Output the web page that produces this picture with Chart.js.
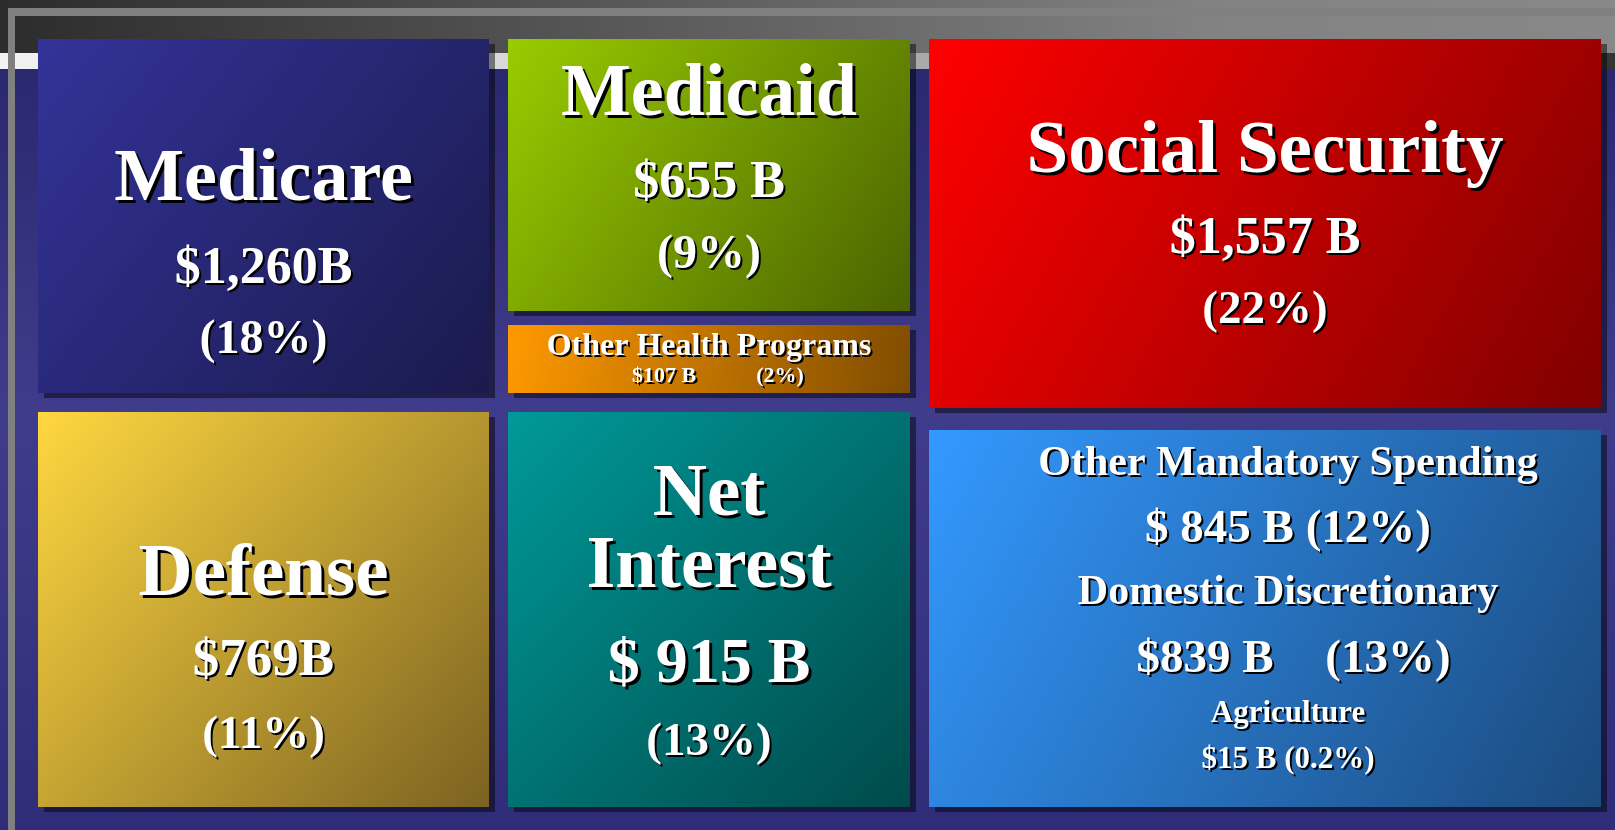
<!DOCTYPE html>
<html>
<head>
<meta charset="utf-8">
<title>Federal spending</title>
<script src="https://cdn.jsdelivr.net/npm/chart.js@4/dist/chart.umd.min.js"></script>
<style>
  html, body { margin: 0; padding: 0; background: #3e3a8a; }
  #wrap { width: 1615px; height: 830px; }
</style>
</head>
<body>
<div id="wrap"><canvas id="spendChart"></canvas></div>
<script>
// data
const categories = ['Medicare', 'Medicaid', 'Other Health Programs', 'Social Security', 'Defense',
  'Net Interest', 'Other Mandatory Spending', 'Domestic Discretionary', 'Agriculture'];
const amountLabels = ['$1,260B', '$655 B', '$107 B', '$1,557 B', '$769B', '$ 915 B', '$ 845 B', '$839 B', '$15 B'];
const shareLabels = ['18%', '9%', '2%', '22%', '11%', '13%', '12%', '13%', '0.2%'];

// slide units (the hidden scales run over these)
const SLIDE_W = 1615, SLIDE_H = 830;

// tiles: [left, top, right, bottom] in slide units, gradient light -> dark
const tiles = [
  { box: [38, 39, 489, 393], colors: ['#333399', '#1a1a4d'] },
  { box: [508, 39, 910, 311], colors: ['#99cc00', '#4a6300'] },
  { box: [508, 325, 910, 393], colors: ['#ff9900', '#7f4c00'] },
  { box: [929, 39, 1601, 408], colors: ['#ff0000', '#800000'] },
  { box: [38, 412, 489, 807], colors: ['#ffd740', '#7b6221'] },
  { box: [508, 412, 910, 807], colors: ['#009999', '#004a4a'] },
  { box: [929, 430, 1601, 807], colors: ['#3399ff', '#1b4a7d'] }
];

const pct = i => '(' + shareLabels[i] + ')';

// text lines per tile: text, font size, baseline y, optional centre x
const tileLines = [
  [{ t: categories[0], s: 74, y: 200 }, { t: amountLabels[0], s: 52, y: 283 }, { t: pct(0), s: 48, y: 353 }],
  [{ t: categories[1], s: 74, y: 115 }, { t: amountLabels[1], s: 52, y: 197 }, { t: pct(1), s: 48, y: 268 }],
  [{ t: categories[2], s: 32, y: 355 }, { t: amountLabels[2], s: 22, y: 382, x: 664 }, { t: pct(2), s: 22, y: 382, x: 780 }],
  [{ t: categories[3], s: 75, y: 172 }, { t: amountLabels[3], s: 52, y: 253 }, { t: pct(3), s: 47, y: 323 }],
  [{ t: categories[4], s: 75, y: 595 }, { t: amountLabels[4], s: 53, y: 675 }, { t: pct(4), s: 47, y: 748 }],
  [{ t: categories[5].split(' ')[0], s: 75, y: 515 }, { t: categories[5].split(' ')[1], s: 74, y: 587 },
   { t: amountLabels[5], s: 64, y: 682 }, { t: pct(5), s: 47, y: 755 }],
  [{ t: categories[6], s: 42, y: 475, x: 1288 }, { t: amountLabels[6] + ' ' + pct(6), s: 47, y: 542, x: 1288 },
   { t: categories[7], s: 42, y: 604, x: 1288 }, { t: amountLabels[7], s: 47, y: 672, x: 1205 }, { t: pct(7), s: 47, y: 672, x: 1388 },
   { t: categories[8], s: 31, y: 722, x: 1288 }, { t: amountLabels[8] + ' ' + pct(8), s: 31, y: 768, x: 1288 }]
];

function drawLabel(ctx, text, x, y, size) {
  ctx.font = 'bold ' + size + 'px "Liberation Serif", "Times New Roman", serif';
  ctx.textAlign = 'center';
  ctx.textBaseline = 'alphabetic';
  const off = Math.max(2, Math.round(size / 24));
  ctx.fillStyle = '#000';
  ctx.fillText(text, x + off, y + off);
  ctx.fillStyle = '#fff';
  ctx.fillText(text, x, y);
}

const slidePlugin = {
  id: 'slidePlugin',
  beforeDraw(chart) {
    const { ctx } = chart;
    const xs = chart.scales.x, ys = chart.scales.y;
    const px = v => xs.getPixelForValue(v);
    const py = v => ys.getPixelForValue(v);
    ctx.save();
    // purple background
    let g = ctx.createLinearGradient(0, py(69), 0, py(SLIDE_H));
    g.addColorStop(0, '#2a286f');
    g.addColorStop(0.45, '#403c8c');
    g.addColorStop(1, '#2f2d78');
    ctx.fillStyle = g;
    ctx.fillRect(px(0), py(0), px(SLIDE_W) - px(0), py(SLIDE_H) - py(0));
    // dark title band
    g = ctx.createLinearGradient(px(0), 0, px(SLIDE_W), 0);
    g.addColorStop(0, '#2c2c2c');
    g.addColorStop(0.75, '#828282');
    g.addColorStop(1, '#888888');
    ctx.fillStyle = g;
    ctx.fillRect(px(0), py(0), px(SLIDE_W) - px(0), py(53) - py(0));
    // light strip under the band
    g = ctx.createLinearGradient(px(0), 0, px(SLIDE_W), 0);
    g.addColorStop(0, '#f2f2f2');
    g.addColorStop(0.3, '#dadada');
    g.addColorStop(0.58, '#a8a8a8');
    g.addColorStop(0.9, '#666666');
    g.addColorStop(1, '#333333');
    ctx.fillStyle = g;
    ctx.fillRect(px(0), py(53), px(SLIDE_W) - px(0), py(69) - py(53));
    // frame lines
    ctx.fillStyle = '#808080';
    ctx.fillRect(px(8), py(8), px(SLIDE_W) - px(8), py(16) - py(8));
    ctx.fillRect(px(8), py(8), px(15) - px(8), py(SLIDE_H) - py(8));
    ctx.restore();
  },
  afterDraw(chart) {
    const { ctx } = chart;
    const xs = chart.scales.x, ys = chart.scales.y;
    const px = v => xs.getPixelForValue(v);
    const py = v => ys.getPixelForValue(v);
    ctx.save();
    // shadows first
    tiles.forEach(tile => {
      const [l, t, r, b] = tile.box;
      ctx.fillStyle = 'rgba(0,0,0,0.47)';
      ctx.fillRect(px(l + 6), py(t + 5), px(r) - px(l), py(b) - py(t));
    });
    tiles.forEach((tile, i) => {
      const [l, t, r, b] = tile.box;
      const g = ctx.createLinearGradient(px(l), py(t), px(r), py(b));
      g.addColorStop(0, tile.colors[0]);
      g.addColorStop(1, tile.colors[1]);
      ctx.fillStyle = g;
      ctx.fillRect(px(l), py(t), px(r) - px(l), py(b) - py(t));
      const cx = (l + r) / 2;
      tileLines[i].forEach(line => {
        drawLabel(ctx, line.t, px(line.x !== undefined ? line.x : cx), py(line.y), line.s);
      });
    });
    ctx.restore();
  }
};

new Chart(document.getElementById('spendChart'), {
  type: 'scatter',
  data: { datasets: [] },
  options: {
    responsive: true,
    maintainAspectRatio: false,
    animation: false,
    layout: { padding: 0 },
    scales: {
      x: { type: 'linear', min: 0, max: SLIDE_W, display: false },
      y: { type: 'linear', min: 0, max: SLIDE_H, reverse: true, display: false }
    },
    plugins: { legend: { display: false }, tooltip: { enabled: false } }
  },
  plugins: [slidePlugin]
});
</script>
</body>
</html>
